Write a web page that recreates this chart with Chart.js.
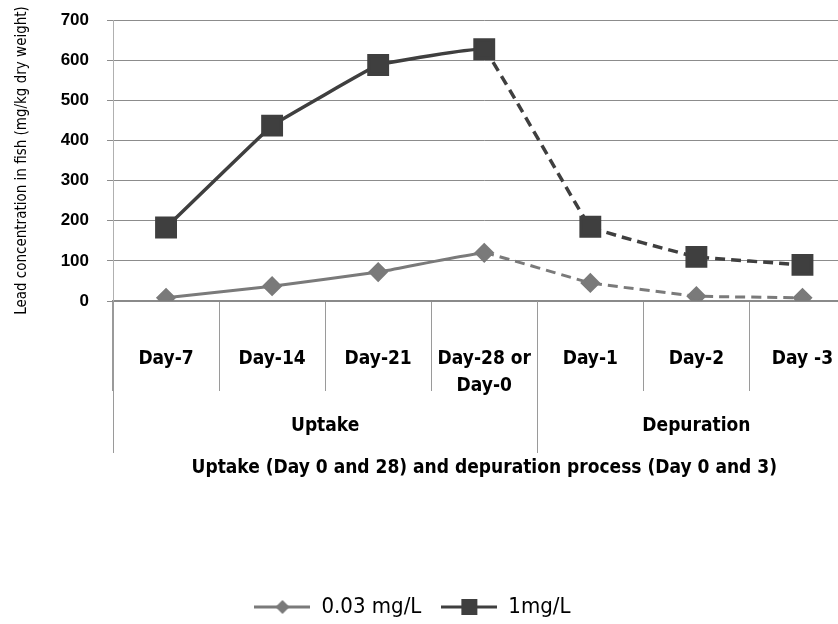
<!DOCTYPE html>
<html>
<head>
<meta charset="utf-8">
<script src="https://cdn.jsdelivr.net/npm/chart.js@4.4.0/dist/chart.umd.min.js"></script>
<style>
  html, body { margin: 0; padding: 0; background: #fff; overflow: hidden; }
  #wrap { width: 838px; height: 624px; overflow: hidden; }
  #box { width: 872px; height: 624px; }
</style>
</head>
<body>
<div id="wrap"><div id="box"><canvas id="chart"></canvas></div></div>
<script>
// Données
const days = [['Day-7'], ['Day-14'], ['Day-21'], ['Day-28 or', 'Day-0'], ['Day-1'], ['Day-2'], ['Day -3']];
const lowDose = [8, 37, 72, 120, 45, 12, 8];
const highDose = [183, 437, 588, 627, 185, 110, 90];
const seriesNames = ['0.03 mg/L', '1mg/L'];
const groups = ['Uptake', 'Depuration'];
const groupSizes = [4, 3];
const yMax = 700;
const yStep = 100;

const narrow = '"Liberation Sans Narrow", "DejaVu Sans Condensed", "Liberation Sans", Arial, sans-serif';
const lowColor = '#7a7a7a';
const highColor = '#3f3f3f';

// Trait pointillé après Day-28
const dashAfter = (dash) => ({
    borderDash: ctx => ctx.p0DataIndex >= 3 ? dash : undefined
});

// Icône de légende : ligne + marqueur
function legendIcon(color, shape) {
    const c = document.createElement('canvas');
    c.width = 56; c.height = 20;
    const g = c.getContext('2d');
    g.strokeStyle = color; g.lineWidth = 3;
    g.beginPath(); g.moveTo(0, 10); g.lineTo(56, 10); g.stroke();
    g.fillStyle = color;
    if (shape === 'square') {
        g.fillRect(20, 2, 16, 16);
    } else {
        g.beginPath();
        g.moveTo(28, 3); g.lineTo(35, 10); g.lineTo(28, 17); g.lineTo(21, 10);
        g.closePath(); g.fill();
    }
    return c;
}
const icons = [legendIcon(lowColor, 'diamond'), legendIcon(highColor, 'square')];

// Groupes sous l'axe x (Uptake / Depuration)
const groupPlugin = {
    id: 'groupLabels',
    afterLayout(chart) {
        // légende un peu plus à gauche et plus bas, comme sur la figure
        const lg = chart.legend;
        lg.right -= 40;
        lg.top += 4;
        lg.bottom += 4;
    },
    afterDraw(chart) {
        const x = chart.scales.x;
        const ctx = chart.ctx;
        const step = x.getPixelForValue(1) - x.getPixelForValue(0);
        let start = 0;
        ctx.save();
        ctx.strokeStyle = '#9a9a9a';
        ctx.lineWidth = 1;
        ctx.fillStyle = '#000';
        ctx.font = 'bold 19px ' + narrow;
        ctx.textAlign = 'center';
        ctx.textBaseline = 'middle';
        groups.forEach((name, i) => {
            const left = x.getPixelForValue(start) - step / 2;
            const right = left + groupSizes[i] * step;
            ctx.beginPath();
            ctx.moveTo(Math.round(left) + 0.5, x.top);
            ctx.lineTo(Math.round(left) + 0.5, x.top + 152);
            ctx.stroke();
            ctx.fillText(name, (left + right) / 2, x.top + 125);
            start += groupSizes[i];
        });
        ctx.restore();
    }
};

new Chart(document.getElementById('chart'), {
    type: 'line',
    data: {
        labels: days,
        datasets: [{
            label: seriesNames[0],
            data: lowDose,
            borderColor: lowColor,
            backgroundColor: lowColor,
            borderWidth: 3,
            pointStyle: 'rectRot',
            pointRadius: 8,
            pointHoverRadius: 8,
            tension: 0.05,
            segment: dashAfter([10, 6])
        }, {
            label: seriesNames[1],
            data: highDose,
            borderColor: highColor,
            backgroundColor: highColor,
            borderWidth: 3.5,
            pointStyle: 'rect',
            pointRadius: 13,
            pointHoverRadius: 13,
            tension: 0.05,
            segment: dashAfter([10, 6])
        }]
    },
    options: {
        responsive: true,
        maintainAspectRatio: false,
        animation: false,
        layout: { padding: { top: 20, right: 7, left: 0, bottom: 0 } },
        plugins: {
            tooltip: { enabled: false },
            legend: {
                position: 'bottom',
                labels: {
                    usePointStyle: true,
                    pointStyleWidth: 56,
                    boxHeight: 20,
                    padding: 20,
                    color: '#000',
                    font: { family: narrow, size: 22 },
                    generateLabels: (chart) => chart.data.datasets.map((ds, i) => ({
                        text: ds.label,
                        pointStyle: icons[i],
                        fillStyle: ds.borderColor,
                        strokeStyle: ds.borderColor,
                        lineWidth: 0,
                        datasetIndex: i
                    }))
                }
            }
        },
        scales: {
            x: {
                offset: true,
                grid: {
                    offset: true,
                    drawOnChartArea: false,
                    drawTicks: true,
                    tickLength: 90,
                    color: '#9a9a9a'
                },
                border: { color: '#8a8a8a', width: 2 },
                ticks: {
                    color: '#000',
                    padding: -46,
                    maxRotation: 0,
                    autoSkip: false,
                    font: { family: narrow, size: 19, weight: 'bold', lineHeight: 1.45 }
                },
                title: {
                    display: true,
                    text: 'Uptake (Day 0 and 28) and depuration process (Day 0 and 3)',
                    color: '#000',
                    font: { family: narrow, size: 19, weight: 'bold' },
                    padding: { top: 0, bottom: 93 }
                },
                afterFit: (scale) => { scale.height = 271; }
            },
            y: {
                min: 0,
                max: yMax,
                ticks: {
                    stepSize: yStep,
                    color: '#000',
                    padding: 18,
                    font: { family: '"Liberation Sans", Arial, sans-serif', size: 17, weight: 'bold' }
                },
                grid: {
                    color: '#8c8c8c',
                    tickLength: 6
                },
                border: { color: '#b0b0b0', width: 1 },
                title: {
                    display: true,
                    text: 'Lead concentration in fish (mg/kg dry weight)',
                    color: '#000',
                    font: { family: narrow, size: 15 },
                    padding: { top: 13, bottom: 0 }
                },
                afterFit: (scale) => {
                    scale.width = 113;
                    scale.paddingTop = 8;
                    scale.paddingBottom = 8;
                }
            }
        }
    },
    plugins: [groupPlugin]
});
</script>
</body>
</html>
